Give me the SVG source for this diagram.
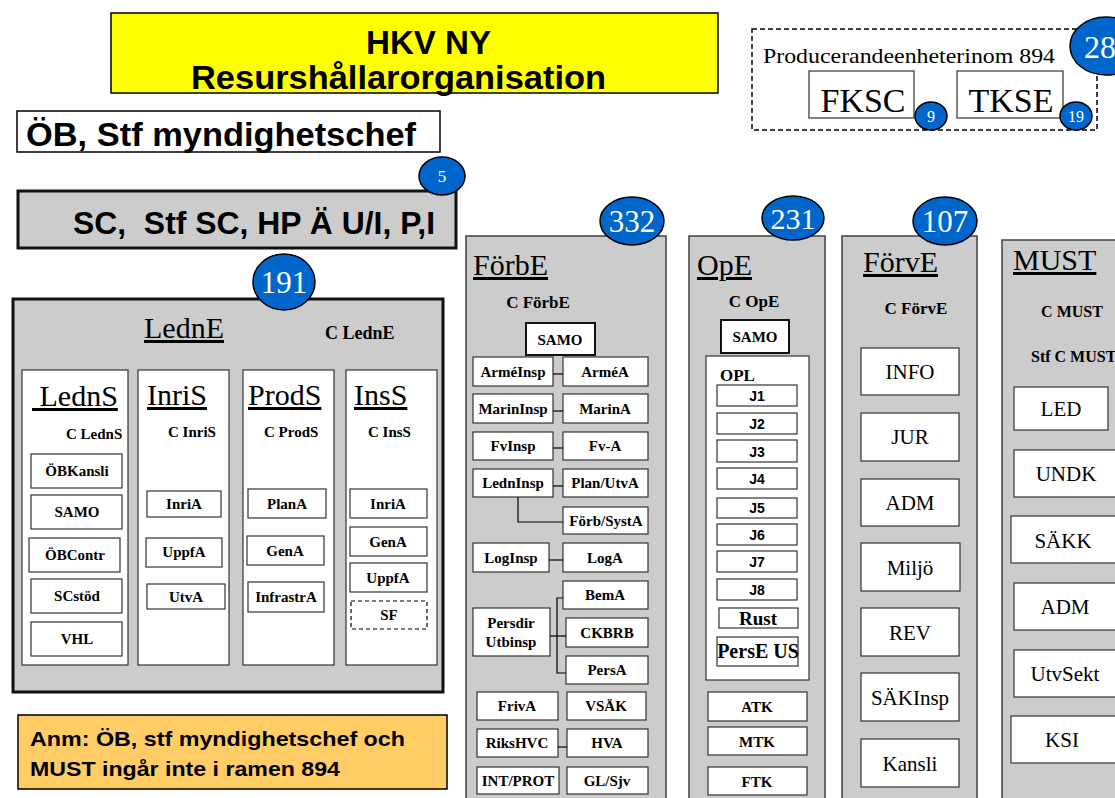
<svg xmlns="http://www.w3.org/2000/svg" width="1115" height="798" viewBox="0 0 1115 798">
<defs>
<style>
.grp{fill:#CCCCCC;stroke:#404040;stroke-width:1.5}
.thick{fill:#CCCCCC;stroke:#111;stroke-width:3}
.w{fill:#fff;stroke:#333;stroke-width:1.2}
.ws{fill:#fff;stroke:#111;stroke-width:2}
.badge{fill:#0066CC;stroke:#000;stroke-width:1.5}
.bt{font-family:"Liberation Serif","Times New Roman",serif;font-weight:bold;text-anchor:middle;fill:#000}
.bs{font-family:"Liberation Serif","Times New Roman",serif;font-weight:bold;fill:#000}
.t{font-family:"Liberation Serif","Times New Roman",serif;text-anchor:middle;fill:#000}
.a{font-family:"Liberation Sans",Arial,sans-serif;font-weight:bold;fill:#000}
.j{font-family:"Liberation Sans",Arial,sans-serif;font-weight:bold;font-size:14px;text-anchor:middle;fill:#000}
.num{font-family:"Liberation Serif","Times New Roman",serif;fill:#fff;text-anchor:middle}
.ttl{font-family:"Liberation Serif","Times New Roman",serif;font-size:30px;text-decoration:underline;fill:#000}
.f15{font-size:15px}
.f21{font-size:21px}
.con{stroke:#000;stroke-width:1.2;fill:none}
</style>
</defs>

<g id="title">
<rect x="111" y="13" width="607" height="80" fill="#FFFF00" stroke="#000" stroke-width="1.5"/>
<text class="a" x="366" y="54" font-size="33" textLength="125" lengthAdjust="spacingAndGlyphs">HKV NY</text>
<text class="a" x="191" y="89" font-size="33" textLength="415" lengthAdjust="spacingAndGlyphs">Resurshållarorganisation</text>
</g>

<g id="ob">
<rect x="17" y="111" width="423" height="41" fill="#fff" stroke="#000" stroke-width="1.5"/>
<text class="a" x="26" y="146" font-size="33" textLength="390" lengthAdjust="spacingAndGlyphs">ÖB, Stf myndighetschef</text>
</g>

<g id="sc">
<rect x="18" y="191" width="438" height="57" class="thick"/>
<text class="a" x="73" y="234" font-size="32" textLength="362" lengthAdjust="spacingAndGlyphs" xml:space="preserve">SC,  Stf SC, HP Ä U/I, P,I</text>
<ellipse class="badge" cx="442" cy="176" rx="23" ry="19"/>
<text class="num" x="442" y="182" font-size="17">5</text>
</g>

<g id="producerande">
<rect x="752" y="29" width="345" height="101" fill="none" stroke="#000" stroke-width="1.5" stroke-dasharray="5,3"/>
<text x="763" y="63" font-family="Liberation Serif, serif" font-size="22" textLength="292" lengthAdjust="spacingAndGlyphs">Producerandeenheterinom 894</text>
<ellipse class="badge" cx="1106" cy="46" rx="36" ry="29" stroke-width="2.5"/>
<text class="num" x="1100" y="58" font-size="32">28</text>
</g>
<g id="fksc">
<rect x="809" y="71" width="105" height="47" class="w"/>
<text class="t" x="863" y="112" font-size="34">FKSC</text>
<ellipse class="badge" cx="931" cy="116" rx="16" ry="14"/>
<text class="num" x="931" y="122" font-size="16">9</text>
</g>
<g id="tkse">
<rect x="957" y="71" width="106" height="47" class="w"/>
<text class="t" x="1011" y="112" font-size="34">TKSE</text>
<ellipse class="badge" cx="1076" cy="116" rx="16" ry="14"/>
<text class="num" x="1076" y="122" font-size="16">19</text>
</g>

<g id="ledne">
<rect x="13" y="299" width="430" height="393" class="thick"/>
<ellipse class="badge" cx="284" cy="282" rx="31" ry="28"/>
<text class="num" x="284" y="293" font-size="31">191</text>
<text class="ttl" x="144" y="338" font-size="31">LednE</text>
<text class="bs" x="325" y="339" font-size="18">C LednE</text>
</g>

<g id="ledns">
<rect x="22" y="370" width="106" height="295" class="w"/>
<text class="ttl" x="32" y="406" xml:space="preserve"> LednS</text>
<text class="bs f15" x="66" y="439">C LednS</text>
<rect x="31" y="454" width="91" height="34" class="w"/><text class="bt f15" x="77" y="476">ÖBKansli</text>
<rect x="31" y="495" width="91" height="34" class="w"/><text class="bt f15" x="77" y="517">SAMO</text>
<rect x="29" y="538" width="91" height="34" class="w"/><text class="bt f15" x="75" y="560">ÖBContr</text>
<rect x="31" y="579" width="91" height="34" class="w"/><text class="bt f15" x="77" y="601">SCstöd</text>
<rect x="31" y="622" width="91" height="34" class="w"/><text class="bt f15" x="77" y="644">VHL</text>
</g>

<g id="inris">
<rect x="138" y="370" width="91" height="295" class="w"/>
<text class="ttl" x="147" y="405">InriS</text>
<text class="bs f15" x="168" y="437">C InriS</text>
<rect x="147" y="491" width="74" height="26" class="w"/><text class="bt f15" x="184" y="509">InriA</text>
<rect x="146" y="538" width="76" height="29" class="w"/><text class="bt f15" x="184" y="557">UppfA</text>
<rect x="147" y="584" width="78" height="25" class="w"/><text class="bt f15" x="186" y="602">UtvA</text>
</g>

<g id="prods">
<rect x="243" y="370" width="91" height="295" class="w"/>
<text class="ttl" x="248" y="405">ProdS</text>
<text class="bs f15" x="264" y="437">C ProdS</text>
<rect x="248" y="489" width="78" height="29" class="w"/><text class="bt f15" x="287" y="509">PlanA</text>
<rect x="247" y="536" width="77" height="29" class="w"/><text class="bt f15" x="285" y="556">GenA</text>
<rect x="248" y="582" width="76" height="30" class="w"/><text class="bt f15" x="286" y="602">InfrastrA</text>
</g>

<g id="inss">
<rect x="346" y="370" width="91" height="295" class="w"/>
<text class="ttl" x="354" y="405">InsS</text>
<text class="bs f15" x="368" y="437">C InsS</text>
<rect x="350" y="489" width="77" height="29" class="w"/><text class="bt f15" x="388" y="509">InriA</text>
<rect x="350" y="527" width="77" height="29" class="w"/><text class="bt f15" x="388" y="547">GenA</text>
<rect x="350" y="563" width="77" height="29" class="w"/><text class="bt f15" x="388" y="583">UppfA</text>
<rect x="351" y="601" width="76" height="28" fill="#fff" stroke="#000" stroke-width="1.2" stroke-dasharray="4,3"/><text class="bt f15" x="389" y="620">SF</text>
</g>

<g id="anm">
<rect x="18" y="715" width="429" height="74" fill="#FFCC66" stroke="#000" stroke-width="1.5"/>
<text class="a" x="30" y="746" font-size="21" textLength="375" lengthAdjust="spacingAndGlyphs">Anm: ÖB, stf myndighetschef och</text>
<text class="a" x="30" y="776" font-size="21" textLength="310" lengthAdjust="spacingAndGlyphs">MUST ingår inte i ramen 894</text>
</g>

<g id="forbe">
<rect x="466" y="236" width="200" height="580" class="grp"/>
<ellipse class="badge" cx="632" cy="221" rx="32" ry="24"/>
<text class="num" x="632" y="232" font-size="31">332</text>
<text class="ttl" x="473" y="275">FörbE</text>
<text class="bt" x="538" y="308" font-size="17">C FörbE</text>
<rect x="526" y="323" width="69" height="32" class="ws"/><text class="bt f15" x="560" y="345">SAMO</text>
<rect x="473" y="357" width="80" height="29" class="w"/><text class="bt f15" x="513" y="377">ArméInsp</text>
<rect x="563" y="357" width="85" height="29" class="w"/><text class="bt f15" x="605" y="377">ArméA</text>
<rect x="473" y="394" width="80" height="29" class="w"/><text class="bt f15" x="513" y="414">MarinInsp</text>
<rect x="563" y="394" width="85" height="29" class="w"/><text class="bt f15" x="605" y="414">MarinA</text>
<rect x="473" y="432" width="80" height="28" class="w"/><text class="bt f15" x="513" y="451">FvInsp</text>
<rect x="563" y="432" width="85" height="28" class="w"/><text class="bt f15" x="605" y="451">Fv-A</text>
<rect x="473" y="469" width="80" height="28" class="w"/><text class="bt f15" x="513" y="488">LednInsp</text>
<rect x="563" y="469" width="85" height="28" class="w"/><text class="bt f15" x="605" y="488">Plan/UtvA</text>
<rect x="563" y="507" width="85" height="27" class="w"/><text class="bt f15" x="606" y="526">Förb/SystA</text>
<rect x="473" y="543" width="76" height="29" class="w"/><text class="bt f15" x="511" y="563">LogInsp</text>
<rect x="563" y="543" width="85" height="29" class="w"/><text class="bt f15" x="605" y="563">LogA</text>
<rect x="563" y="581" width="85" height="28" class="w"/><text class="bt f15" x="605" y="600">BemA</text>
<rect x="566" y="618" width="82" height="29" class="w"/><text class="bt f15" x="607" y="638">CKBRB</text>
<rect x="566" y="656" width="82" height="28" class="w"/><text class="bt f15" x="607" y="675">PersA</text>
<rect x="473" y="608" width="77" height="48" class="w"/><text class="bt f15" x="511" y="628">Persdir</text><text class="bt f15" x="511" y="647">Utbinsp</text>
<rect x="477" y="692" width="81" height="28" class="w"/><text class="bt f15" x="517" y="711">FrivA</text>
<rect x="567" y="692" width="79" height="28" class="w"/><text class="bt f15" x="606" y="711">VSÄK</text>
<rect x="477" y="729" width="81" height="28" class="w"/><text class="bt f15" x="517" y="748">RiksHVC</text>
<rect x="567" y="729" width="81" height="28" class="w"/><text class="bt f15" x="607" y="748">HVA</text>
<rect x="477" y="767" width="82" height="27" class="w"/><text class="bt f15" x="518" y="786">INT/PROT</text>
<rect x="567" y="767" width="81" height="27" class="w"/><text class="bt f15" x="607" y="786">GL/Sjv</text>
</g>

<g id="ope">
<rect x="689" y="236" width="136" height="580" class="grp"/>
<ellipse class="badge" cx="793" cy="218" rx="31" ry="22"/>
<text class="num" x="793" y="229" font-size="30">231</text>
<text class="ttl" x="697" y="275">OpE</text>
<text class="bt" x="754" y="307" font-size="17">C OpE</text>
<rect x="721" y="320" width="68" height="33" class="ws"/><text class="bt f15" x="755" y="342">SAMO</text>
<rect x="706" y="356" width="103" height="324" class="w"/>
<text class="bs" x="720" y="381" font-size="17">OPL</text>
<rect x="717" y="385" width="80" height="21" class="w"/><text class="j" x="757" y="401">J1</text>
<rect x="717" y="413" width="80" height="21" class="w"/><text class="j" x="757" y="429">J2</text>
<rect x="717" y="440" width="80" height="22" class="w"/><text class="j" x="757" y="457">J3</text>
<rect x="717" y="468" width="80" height="21" class="w"/><text class="j" x="757" y="484">J4</text>
<rect x="717" y="498" width="80" height="20" class="w"/><text class="j" x="757" y="513">J5</text>
<rect x="717" y="524" width="80" height="21" class="w"/><text class="j" x="757" y="540">J6</text>
<rect x="717" y="551" width="80" height="21" class="w"/><text class="j" x="757" y="567">J7</text>
<rect x="717" y="579" width="80" height="21" class="w"/><text class="j" x="757" y="595">J8</text>
<rect x="719" y="608" width="79" height="20" class="w"/><text class="bt" x="758" y="625" font-size="19">Rust</text>
<rect x="717" y="637" width="81" height="29" class="w"/><text class="bt" x="758" y="658" font-size="20">PersE US</text>
<rect x="708" y="692" width="99" height="29" class="w"/><text class="bt f15" x="757" y="712">ATK</text>
<rect x="708" y="727" width="99" height="28" class="w"/><text class="bt f15" x="757" y="747">MTK</text>
<rect x="708" y="767" width="99" height="28" class="w"/><text class="bt f15" x="757" y="787">FTK</text>
</g>

<g id="forve">
<rect x="842" y="236" width="135" height="580" class="grp"/>
<ellipse class="badge" cx="945" cy="221" rx="32" ry="24"/>
<text class="num" x="945" y="232" font-size="31">107</text>
<text class="ttl" x="863" y="272">FörvE</text>
<text class="bt" x="916" y="314" font-size="17">C FörvE</text>
<rect x="861" y="348" width="98" height="47" class="w"/><text class="t f21" x="910" y="379">INFO</text>
<rect x="861" y="413" width="98" height="48" class="w"/><text class="t f21" x="910" y="444">JUR</text>
<rect x="861" y="479" width="98" height="47" class="w"/><text class="t f21" x="910" y="510">ADM</text>
<rect x="861" y="543" width="99" height="48" class="w"/><text class="t f21" x="910" y="575">Miljö</text>
<rect x="861" y="608" width="98" height="48" class="w"/><text class="t f21" x="910" y="640">REV</text>
<rect x="861" y="673" width="98" height="48" class="w"/><text class="t f21" x="910" y="705">SÄKInsp</text>
<rect x="861" y="739" width="98" height="48" class="w"/><text class="t f21" x="910" y="771">Kansli</text>
</g>

<g id="must">
<rect x="1002" y="240" width="130" height="580" class="grp"/>
<text class="ttl" x="1013" y="270" font-size="31">MUST</text>
<text class="bt" x="1072" y="317" font-size="16">C MUST</text>
<text class="bs" x="1031" y="362" font-size="16">Stf C MUST</text>
<rect x="1014" y="387" width="94" height="43" class="w"/><text class="t f21" x="1061" y="416">LED</text>
<rect x="1014" y="450" width="110" height="47" class="w"/><text class="t f21" x="1066" y="481">UNDK</text>
<rect x="1011" y="516" width="110" height="47" class="w"/><text class="t f21" x="1063" y="548">SÄKK</text>
<rect x="1014" y="583" width="110" height="47" class="w"/><text class="t f21" x="1065" y="614">ADM</text>
<rect x="1014" y="650" width="110" height="47" class="w"/><text class="t f21" x="1065" y="681">UtvSekt</text>
<rect x="1011" y="716" width="110" height="47" class="w"/><text class="t f21" x="1062" y="747">KSI</text>
</g>

<g id="connectors">
<line class="con" x1="553" y1="374" x2="563" y2="374"/>
<line class="con" x1="553" y1="411" x2="563" y2="411"/>
<line class="con" x1="553" y1="448" x2="563" y2="448"/>
<line class="con" x1="553" y1="486" x2="563" y2="486"/>
<polyline class="con" points="518,497 518,522 563,522"/>
<line class="con" x1="549" y1="560" x2="563" y2="560"/>
<line class="con" x1="550" y1="636" x2="566" y2="636"/>
<polyline class="con" points="563,598 557,598 557,673 566,673"/>
<line class="con" x1="558" y1="747" x2="567" y2="747"/>
</g>
</svg>
